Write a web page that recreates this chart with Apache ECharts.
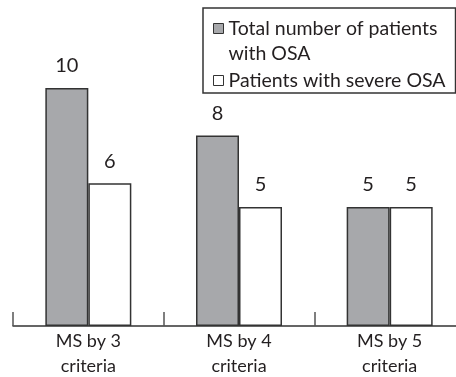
<!DOCTYPE html>
<html>
<head>
<meta charset="utf-8">
<script src="https://cdn.jsdelivr.net/npm/echarts@6/dist/echarts.min.js"></script>
<style>
  html, body { margin: 0; padding: 0; background: #fff; }
  #chart { width: 456px; height: 377px; }
</style>
</head>
<body>
<div id="chart"></div>
<script>
// data
const categories = ["MS by 3\ncriteria", "MS by 4\ncriteria", "MS by 5\ncriteria"];
const totalOsa = [10, 8, 5];
const severeOsa = [6, 5, 5];
const seriesNames = ["Total number of patients\nwith OSA", "Patients with severe OSA"];

const ink = "#231f20";
const edge = "#333";
const font = "Lato";

var myChart = echarts.init(document.getElementById("chart"));

var option = {
  animation: false,
  textStyle: { fontFamily: font, color: ink },
  grid: {
    left: 13,
    top: 88,
    width: 452,
    height: 238,
    outerBoundsMode: "none",
  },
  legend: {
    orient: "vertical",
    left: 203,
    top: 8,
    width: 250,
    icon: "rect",
    itemWidth: 10,
    itemHeight: 10,
    itemGap: 2,
    selectedMode: false,
    borderColor: edge,
    borderWidth: 1.5,
    padding: [-17, 10, 0, 10],
    // leading blank line keeps the marker level with the first text line
    formatter: (name) => (name === seriesNames[0] ? "\n" + name : name),
    textStyle: { fontFamily: font, fontSize: 19.5, color: ink, lineHeight: 25 },
    data: [
      {
        name: seriesNames[0],
        itemStyle: { color: "#a7a8ab", borderColor: edge, borderWidth: 1 },
      },
      {
        name: seriesNames[1],
        itemStyle: { color: "#fff", borderColor: edge, borderWidth: 1 },
      },
    ],
  },
  xAxis: {
    type: "category",
    data: categories,
    axisLine: { lineStyle: { color: edge, width: 1.5 } },
    axisTick: { show: true, inside: true, length: 14, lineStyle: { color: "#555", width: 1.5 } },
    axisLabel: { fontFamily: font, fontSize: 18, color: ink, margin: 3, lineHeight: 25 },
  },
  yAxis: {
    type: "value",
    min: 0,
    max: 10,
    show: false,
    splitLine: { show: false },
  },
  series: [
    {
      name: seriesNames[0],
      type: "bar",
      data: totalOsa,
      barWidth: 43,
      barGap: "0%",
      itemStyle: { color: "#a7a8ab", borderColor: edge, borderWidth: 1.5 },
      label: { show: true, position: "top", distance: 12, fontFamily: font, fontSize: 20, color: ink },
    },
    {
      name: seriesNames[1],
      type: "bar",
      data: severeOsa,
      barWidth: 43,
      barGap: "0%",
      itemStyle: { color: "#fff", borderColor: edge, borderWidth: 1.5 },
      label: { show: true, position: "top", distance: 12, fontFamily: font, fontSize: 20, color: ink },
    },
  ],
};

myChart.setOption(option);
</script>
</body>
</html>
